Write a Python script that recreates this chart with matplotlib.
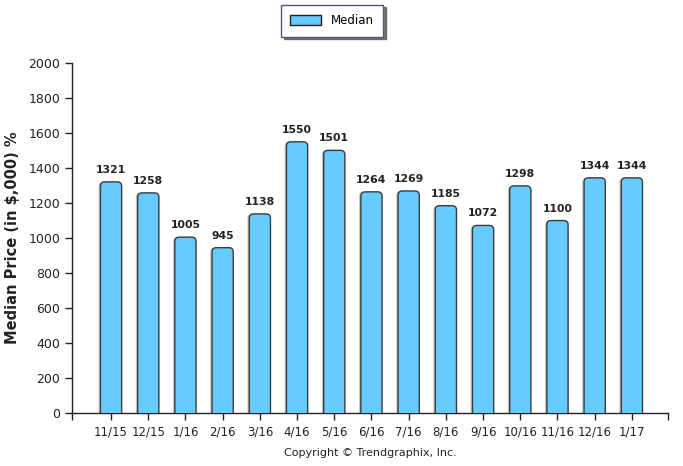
import matplotlib
matplotlib.use("Agg")
import matplotlib.pyplot as plt
from matplotlib.patches import FancyBboxPatch, Patch

months = ["11/15", "12/15", "1/16", "2/16", "3/16", "4/16", "5/16", "6/16",
          "7/16", "8/16", "9/16", "10/16", "11/16", "12/16", "1/17"]
median = [1321, 1258, 1005, 945, 1138, 1550, 1501, 1264,
          1269, 1185, 1072, 1298, 1100, 1344, 1344]
yticks = list(range(0, 2001, 200))

bar_color = "#66CCFF"
edge_color = "#3a3a3a"
text_color = "#222222"

fig = plt.figure(figsize=(6.83, 4.66), dpi=100)
ax = fig.add_axes([0.1054, 0.1137, 0.8726, 0.751])

ax.set_xlim(-1.05, 14.97)
ax.set_ylim(0, 2000)

w = 0.57
for i, v in enumerate(median):
    # soft shadow
    sh = FancyBboxPatch((i - w / 2 - 0.05, -60), w, v + 60,
                        boxstyle="round,pad=0,rounding_size=0.12",
                        mutation_aspect=200, fc="#c8c8c8", ec="none", zorder=2)
    ax.add_patch(sh)
    p = FancyBboxPatch((i - w / 2, -60), w, v + 60,
                       boxstyle="round,pad=0,rounding_size=0.12",
                       mutation_aspect=200, fc=bar_color, ec=edge_color,
                       lw=1.0, zorder=3)
    ax.add_patch(p)
    ax.text(i, v + 40, str(v), ha="center", va="bottom", fontsize=7.8,
            fontweight="bold", color=text_color)

ax.set_xticks(range(len(months)))
ax.set_xticklabels(months, fontsize=8.5, color=text_color)
ax.set_xticks([-1.05, 14.97], minor=True)
ax.set_yticks(yticks)
ax.set_yticklabels([str(t) for t in yticks], fontsize=9, color=text_color)
ax.tick_params(axis="both", which="both", direction="out", length=5,
               width=1, color="#222222")
ax.tick_params(axis="x", pad=4)

for s in ["top", "right"]:
    ax.spines[s].set_visible(False)
for s in ["left", "bottom"]:
    ax.spines[s].set_color("#222222")
    ax.spines[s].set_linewidth(1)

ax.set_ylabel("Median Price (in $,000) %", fontsize=10.5, fontweight="bold",
              color=text_color, labelpad=6)

leg = fig.legend(handles=[Patch(fc=bar_color, ec="#222222", label="Median")],
                 loc="upper center", bbox_to_anchor=(0.486, 0.99),
                 frameon=True, fancybox=False, fontsize=8.5,
                 shadow={"ox": 2, "oy": -2, "color": "#555555", "alpha": 0.8},
                 handlelength=2.6, handleheight=0.9, borderpad=0.8,
                 borderaxespad=0)
leg.get_frame().set_edgecolor("#555577")
leg.get_frame().set_linewidth(1)

fig.text(0.542, 0.028, "Copyright \u00a9 Trendgraphix, Inc.", ha="center",
         va="center", fontsize=8, color=text_color)

fig.savefig("out.png", dpi=100)
